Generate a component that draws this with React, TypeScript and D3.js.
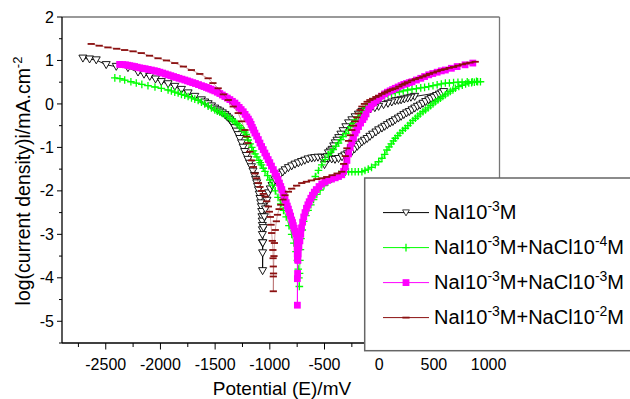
import React from 'react';
import * as d3 from 'd3';

const xTicks = [-2500, -2000, -1500, -1000, -500, 0, 500, 1000];
const xMinor = [-2750, -2250, -1750, -1250, -750, -250, 250, 750];
const yTicks = [-5, -4, -3, -2, -1, 0, 1, 2];
const yMinor = [-5.5, -4.5, -3.5, -2.5, -1.5, -0.5, 0.5, 1.5];

// [E (mV), log i]
const naI: [number, number][] = [
  [-2709,1.05],[-2648,1.03],[-2587,1.01],[-2496,0.90],[-2404,0.86],[-2297,0.83],[-2205,0.73],[-2150,0.68],[-2098,0.63],[-2045,0.57],[-1992,0.51],[-1930,0.46],[-1869,0.40],[-1808,0.33],[-1747,0.25],[-1686,0.17],[-1625,0.09],[-1595,0.04],[-1564,0.0],[-1533,-0.05],[-1503,-0.10],[-1480,-0.14],[-1457,-0.17],[-1434,-0.21],[-1411,-0.25],[-1395,-0.29],[-1378,-0.33],[-1364,-0.37],[-1350,-0.41],[-1335,-0.48],[-1320,-0.55],[-1305,-0.63],[-1289,-0.71],[-1274,-0.80],[-1258,-0.90],[-1244,-1.00],[-1230,-1.10],[-1215,-1.19],[-1200,-1.28],[-1184,-1.37],[-1168,-1.45],[-1154,-1.55],[-1140,-1.65],[-1130,-1.74],[-1120,-1.82],[-1112,-1.90],[-1104,-1.98],[-1097,-2.08],[-1090,-2.18],[-1083,-2.28],[-1077,-2.37],[-1074,-2.48],[-1072,-2.6],[-1070,-2.7],[-1068,-2.8],[-1068,-2.9],[-1068,-3.01],[-1067,-3.2],[-1066,-3.43],[-1066,-3.84],[-1064,-3.2],[-1058,-2.85],[-1050,-2.6],[-1040,-2.42],[-1026,-2.22],[-1012,-2.05],[-996,-1.96],[-980,-1.88],[-966,-1.81],[-951,-1.75],[-928,-1.68],[-905,-1.62],[-882,-1.57],[-860,-1.52],[-830,-1.47],[-800,-1.43],[-770,-1.39],[-739,-1.36],[-710,-1.33],[-680,-1.30],[-650,-1.27],[-617,-1.25],[-590,-1.24],[-560,-1.23],[-526,-1.23],[-495,-1.24],[-464,-1.26],[-434,-1.27],[-404,-1.28],[-372,-1.26],[-340,-1.22],[-315,-1.18],[-290,-1.15],[-270,-1.13],[-250,-1.10],[-225,-1.04],[-200,-0.98],[-180,-0.93],[-158,-0.88],[-135,-0.84],[-110,-0.80],[-85,-0.75],[-60,-0.70],[-30,-0.65],[-5,-0.60],[25,-0.56],[50,-0.52],[75,-0.48],[100,-0.44],[125,-0.41],[147,-0.37],[175,-0.33],[200,-0.29],[225,-0.25],[250,-0.21],[275,-0.18],[300,-0.14],[325,-0.10],[350,-0.06],[375,-0.03],[400,0.01],[425,0.05],[453,0.09],[475,0.12],[500,0.15],[525,0.19],[550,0.22],[570,0.25],[590,0.28],[324,0.17],[290,0.15],[260,0.13],[230,0.11],[200,0.09],[175,0.08],[147,0.07],[115,0.04],[80,0.01],[40,-0.02],[-5,-0.06],[-40,-0.09],[-80,-0.12],[-120,-0.15],[-158,-0.18],[-190,-0.24],[-220,-0.30],[-250,-0.37],[-280,-0.44],[-305,-0.53],[-330,-0.62],[-350,-0.70],[-370,-0.78],[-386,-0.84],[-402,-0.90],[-416,-0.97],[-430,-1.05],[-447,-1.09],[-464,-1.13],[-477,-1.22],[-490,-1.30],[-500,-1.40],
];

const naI_NaCl4: [number, number][] = [
  [-2417,0.60],[-2370,0.58],[-2327,0.55],[-2270,0.51],[-2221,0.48],[-2170,0.45],[-2114,0.42],[-2050,0.39],[-1992,0.36],[-1930,0.32],[-1900,0.30],[-1869,0.27],[-1838,0.25],[-1808,0.22],[-1778,0.20],[-1747,0.17],[-1716,0.14],[-1686,0.11],[-1655,0.08],[-1625,0.04],[-1595,0.0],[-1564,-0.05],[-1534,-0.09],[-1503,-0.14],[-1480,-0.17],[-1457,-0.19],[-1434,-0.22],[-1411,-0.25],[-1388,-0.29],[-1365,-0.33],[-1342,-0.37],[-1319,-0.41],[-1300,-0.45],[-1280,-0.50],[-1262,-0.55],[-1243,-0.60],[-1229,-0.65],[-1215,-0.70],[-1205,-0.77],[-1197,-0.83],[-1180,-0.92],[-1165,-1.0],[-1150,-1.08],[-1135,-1.15],[-1118,-1.22],[-1100,-1.30],[-1088,-1.35],[-1076,-1.40],[-1060,-1.48],[-1044,-1.55],[-1020,-1.65],[-1000,-1.75],[-975,-1.87],[-950,-2.0],[-925,-2.15],[-900,-2.3],[-875,-2.45],[-850,-2.6],[-825,-2.8],[-800,-3.0],[-780,-3.2],[-760,-3.4],[-748,-3.6],[-740,-3.8],[-734,-4.0],[-730,-4.2],[-728,-3.9],[-725,-3.6],[-720,-3.35],[-715,-3.1],[-703,-2.9],[-690,-2.7],[-670,-2.57],[-650,-2.45],[-625,-2.32],[-600,-2.2],[-570,-2.08],[-540,-1.98],[-505,-1.88],[-470,-1.8],[-435,-1.73],[-400,-1.68],[-370,-1.62],[-342,-1.58],[-310,-1.57],[-280,-1.56],[-250,-1.56],[-220,-1.56],[-190,-1.56],[-158,-1.56],[-130,-1.53],[-100,-1.50],[-70,-1.46],[-36,-1.40],[-5,-1.33],[25,-1.25],[50,-1.16],[71,-1.06],[90,-0.99],[110,-0.92],[130,-0.85],[147,-0.79],[170,-0.73],[190,-0.67],[215,-0.61],[239,-0.56],[262,-0.50],[285,-0.44],[308,-0.38],[331,-0.33],[353,-0.28],[375,-0.23],[400,-0.18],[423,-0.14],[447,-0.09],[470,-0.04],[492,0.0],[514,0.05],[537,0.09],[560,0.13],[582,0.17],[605,0.21],[628,0.25],[650,0.29],[674,0.32],[697,0.36],[728,0.40],[760,0.43],[790,0.46],[819,0.48],[845,0.49],[870,0.50],[900,0.51],[926,0.51],[890,0.52],[850,0.51],[805,0.51],[758,0.50],[720,0.50],[680,0.49],[642,0.48],[605,0.48],[568,0.46],[530,0.44],[492,0.42],[453,0.40],[415,0.38],[380,0.37],[340,0.35],[300,0.34],[260,0.32],[220,0.30],[185,0.28],[147,0.26],[113,0.24],[80,0.22],[50,0.20],[25,0.17],[-10,0.12],[-40,0.08],[-70,0.03],[-97,-0.02],[-125,-0.08],[-150,-0.15],[-170,-0.22],[-189,-0.29],[-215,-0.37],[-240,-0.45],[-260,-0.52],[-280,-0.6],[-305,-0.68],[-330,-0.75],[-350,-0.82],[-372,-0.9],[-396,-0.97],[-420,-1.05],[-442,-1.11],[-464,-1.17],[-495,-1.28],[-525,-1.4],[-555,-1.53],[-584,-1.67],
];

const naI_NaCl3: [number, number][] = [
  [-2373,0.91],[-2345,0.905],[-2320,0.90],[-2300,0.89],[-2280,0.88],[-2258,0.87],[-2236,0.86],[-2213,0.845],[-2190,0.83],[-2165,0.82],[-2140,0.81],[-2112,0.795],[-2083,0.78],[-2056,0.765],[-2030,0.75],[-2005,0.73],[-1980,0.71],[-1955,0.69],[-1930,0.67],[-1905,0.65],[-1880,0.63],[-1855,0.61],[-1830,0.59],[-1803,0.57],[-1777,0.55],[-1753,0.53],[-1730,0.51],[-1705,0.49],[-1680,0.47],[-1652,0.445],[-1625,0.42],[-1602,0.40],[-1580,0.38],[-1560,0.36],[-1540,0.34],[-1522,0.32],[-1503,0.30],[-1480,0.27],[-1457,0.24],[-1434,0.205],[-1411,0.17],[-1388,0.135],[-1365,0.10],[-1342,0.06],[-1319,0.02],[-1300,-0.03],[-1280,-0.08],[-1262,-0.13],[-1243,-0.18],[-1226,-0.24],[-1210,-0.30],[-1196,-0.35],[-1182,-0.41],[-1171,-0.47],[-1160,-0.54],[-1148,-0.60],[-1136,-0.67],[-1120,-0.74],[-1105,-0.82],[-1090,-0.90],[-1075,-0.98],[-1060,-1.05],[-1045,-1.13],[-1030,-1.20],[-1015,-1.28],[-1000,-1.35],[-985,-1.43],[-968,-1.51],[-952,-1.59],[-938,-1.66],[-925,-1.74],[-912,-1.82],[-900,-1.90],[-890,-1.97],[-880,-2.05],[-870,-2.12],[-861,-2.2],[-850,-2.27],[-840,-2.35],[-830,-2.42],[-820,-2.5],[-810,-2.58],[-800,-2.67],[-792,-2.73],[-785,-2.80],[-777,-2.86],[-770,-2.93],[-762,-2.99],[-754,-3.05],[-751,-3.17],[-750,-3.3],[-749,-3.45],[-748,-3.57],[-748,-4.02],[-748,-4.63],[-746,-3.9],[-743,-3.6],[-740,-3.45],[-734,-3.3],[-725,-3.15],[-717,-3.0],[-710,-2.85],[-700,-2.72],[-690,-2.6],[-678,-2.5],[-665,-2.4],[-652,-2.32],[-640,-2.25],[-625,-2.17],[-610,-2.1],[-593,-2.03],[-575,-1.97],[-550,-1.9],[-525,-1.84],[-497,-1.80],[-470,-1.76],[-436,-1.73],[-402,-1.70],[-372,-1.67],[-342,-1.63],[-325,-1.55],[-310,-1.45],[-295,-1.30],[-280,-1.15],[-265,-1.0],[-250,-0.88],[-235,-0.78],[-220,-0.67],[-205,-0.6],[-189,-0.52],[-170,-0.44],[-150,-0.36],[-135,-0.3],[-120,-0.23],[-97,-0.12],[-75,-0.05],[-50,0.02],[-28,0.08],[-5,0.13],[22,0.18],[50,0.23],[75,0.27],[100,0.30],[123,0.33],[147,0.36],[173,0.39],[200,0.42],[225,0.45],[250,0.47],[275,0.49],[300,0.51],[340,0.55],[380,0.59],[415,0.63],[453,0.67],[490,0.70],[530,0.73],[568,0.76],[605,0.78],[660,0.82],[713,0.86],[785,0.90],[856,0.94],
];

const naI_NaCl2: [number, number][] = [
  [-2633,1.38],[-2560,1.34],[-2480,1.30],[-2400,1.27],[-2327,1.24],[-2250,1.21],[-2175,1.17],[-2100,1.11],[-2022,1.05],[-1945,1.0],[-1869,0.94],[-1790,0.86],[-1717,0.78],[-1640,0.69],[-1564,0.59],[-1520,0.48],[-1472,0.36],[-1425,0.22],[-1380,0.09],[-1335,-0.06],[-1289,-0.21],[-1258,-0.40],[-1227,-0.6],[-1212,-0.75],[-1200,-0.9],[-1183,-1.1],[-1166,-1.3],[-1150,-1.45],[-1135,-1.6],[-1120,-1.71],[-1104,-1.82],[-1090,-1.91],[-1075,-2.0],[-1060,-2.07],[-1044,-2.13],[-1028,-2.24],[-1013,-2.36],[-1004,-2.48],[-995,-2.6],[-989,-2.78],[-983,-2.97],[-977,-3.15],[-972,-3.36],[-970,-3.55],[-968,-3.74],[-968,-3.97],[-968,-4.31],[-966,-3.9],[-962,-3.5],[-958,-3.2],[-950,-2.9],[-940,-2.7],[-930,-2.55],[-915,-2.42],[-900,-2.32],[-880,-2.2],[-861,-2.1],[-830,-2.02],[-800,-1.95],[-755,-1.88],[-708,-1.82],[-665,-1.79],[-620,-1.76],[-570,-1.73],[-525,-1.71],[-480,-1.68],[-430,-1.64],[-385,-1.6],[-342,-1.56],[-325,-1.38],[-310,-1.2],[-295,-1.02],[-280,-0.85],[-265,-0.72],[-250,-0.6],[-235,-0.5],[-220,-0.40],[-205,-0.31],[-190,-0.22],[-175,-0.14],[-158,-0.06],[-135,0.0],[-110,0.05],[-85,0.09],[-60,0.12],[-30,0.16],[-5,0.19],[25,0.23],[50,0.26],[75,0.29],[100,0.32],[123,0.34],[147,0.36],[180,0.40],[210,0.44],[235,0.47],[260,0.50],[295,0.54],[330,0.57],[365,0.6],[400,0.63],[430,0.66],[460,0.69],[495,0.72],[530,0.75],[565,0.78],[600,0.80],[640,0.83],[680,0.85],[720,0.88],[760,0.91],[795,0.93],[830,0.95],[878,0.97],
];

const legendBase = ['NaI10', 'NaI10', 'NaI10', 'NaI10'];
const legendSup1 = ['-3', '-3', '-3', '-3'];
const legendMid = ['M', 'M+NaCl10', 'M+NaCl10', 'M+NaCl10'];
const legendSup2 = ['', '-4', '-3', '-2'];
const legendEnd = ['', 'M', 'M', 'M'];

const FONT = '"Liberation Sans", Arial, Helvetica, sans-serif';

type MarkerKind = 'tri' | 'plus' | 'square' | 'dash';

function Marker({ kind, x, y, small }: { kind: MarkerKind; x: number; y: number; small?: boolean }) {
  const t = `translate(${x},${y})`;
  const k = small ? 0.85 : 1;
  if (kind === 'tri')
    return <path transform={`${t} scale(${k})`} d="M-4,-3.2 L4,-3.2 L0,3.8 Z" fill="white" stroke="#000" strokeWidth={0.9} />;
  if (kind === 'plus')
    return <path transform={t} d="M-3.8,0H3.8M0,-3.8V3.8" stroke="#00FF00" strokeWidth={1.3} />;
  if (kind === 'square')
    return <rect transform={t} x={-3.4} y={-3.4} width={6.8} height={6.8} fill="#FF00FF" />;
  return <rect transform={t} x={-3.6} y={-0.9} width={7.2} height={1.8} fill="#8B1010" />;
}

export default function App() {
  const W = 630, H = 399;
  const x = d3.scaleLinear().domain([-2900, 1100]).range([62, 499.5]);
  const y = d3.scaleLinear().domain([-5.5, 2]).range([343, 17]);
  const line = d3.line<[number, number]>().x(d => x(d[0])).y(d => y(d[1]));

  const series: { data: [number, number][]; color: string; kind: MarkerKind; lw: number; op: number }[] = [
    { data: naI, color: '#000000', kind: 'tri', lw: 0.9, op: 1 },
    { data: naI_NaCl4, color: '#00FF00', kind: 'plus', lw: 0.8, op: 0.9 },
    { data: naI_NaCl3, color: '#FF00FF', kind: 'square', lw: 0.9, op: 1 },
    { data: naI_NaCl2, color: '#8B1010', kind: 'dash', lw: 0.7, op: 0.55 },
  ];

  const left = 62, bottom = 343, top = 17, right = 499.5;
  const legX = 364.7, legY = 178, legBottom = 350.7;

  return (
    <svg width={W} height={H} style={{ position: 'absolute', left: 0, top: 0, background: '#fff' }} fontFamily={FONT}>
      <rect x={0} y={0} width={W} height={H} fill="#fff" />
      {/* frame */}
      <line x1={left} y1={top} x2={right} y2={top} stroke="#777" strokeWidth={1.3} />
      <line x1={right} y1={top} x2={right} y2={legY} stroke="#777" strokeWidth={1.3} />

      {/* series */}
      {series.map((s, i) => (
        <g key={i}>
          <path d={line(s.data) || ''} fill="none" stroke={s.color} strokeWidth={s.lw} strokeOpacity={s.op} />
          {s.data.map((d, j) => (
            <Marker key={j} kind={s.kind} x={x(d[0])} y={y(d[1])} />
          ))}
        </g>
      ))}

      {/* axes */}
      <line x1={left} y1={top} x2={left} y2={bottom} stroke="#000" strokeWidth={1.3} />
      <line x1={left} y1={bottom} x2={legX} y2={bottom} stroke="#000" strokeWidth={1.3} />
      {xTicks.map(t => (
        <g key={'xt' + t}>
          {x(t) < legX && <line x1={x(t)} x2={x(t)} y1={bottom} y2={bottom + 6.5} stroke="#000" strokeWidth={1} />}
          <text x={x(t)} y={369.5} textAnchor="middle" fontSize={16} fill="#000">{t}</text>
        </g>
      ))}
      {xMinor.filter(t => x(t) < legX).map(t => (
        <line key={'xm' + t} x1={x(t)} x2={x(t)} y1={bottom} y2={bottom + 4} stroke="#000" strokeWidth={1} />
      ))}
      {yTicks.map(t => (
        <g key={'yt' + t}>
          <line x1={left - 5} x2={left} y1={y(t)} y2={y(t)} stroke="#000" strokeWidth={1} />
          <text x={54} y={y(t) + 5.6} textAnchor="end" fontSize={16} fill="#000">{t}</text>
        </g>
      ))}
      {yMinor.map(t => (
        <line key={'ym' + t} x1={left - 3} x2={left} y1={y(t)} y2={y(t)} stroke="#000" strokeWidth={1} />
      ))}

      {/* axis titles */}
      <text x={282} y={395} textAnchor="middle" fontSize={19} fill="#000">Potential (E)/mV</text>
      <text transform="translate(30,181) rotate(-90)" textAnchor="middle" fontSize={19.5} fill="#000">
        log(current density)i/mA.cm<tspan dy={-8} fontSize={13}>-2</tspan>
      </text>

      {/* legend */}
      <rect x={legX} y={legY} width={W - legX + 10} height={legBottom - legY} fill="#fff" stroke="#666" strokeWidth={1.5} />
      {series.map((s, i) => {
        const by = 219.3 + i * 35;
        const ly = by - 6.7;
        return (
          <g key={'lg' + i}>
            <line x1={383} x2={429} y1={ly} y2={ly} stroke={s.color} strokeWidth={1} />
            <Marker kind={s.kind} x={406} y={ly} small />
            <text x={434} y={by} fontSize={20} fill="#000">
              {legendBase[i]}
              <tspan dy={-8} fontSize={14}>{legendSup1[i]}</tspan>
              <tspan dy={8}>{legendMid[i]}</tspan>
              {legendSup2[i] && <tspan dy={-8} fontSize={14}>{legendSup2[i]}</tspan>}
              {legendEnd[i] && <tspan dy={8}>{legendEnd[i]}</tspan>}
            </text>
          </g>
        );
      })}
    </svg>
  );
}
